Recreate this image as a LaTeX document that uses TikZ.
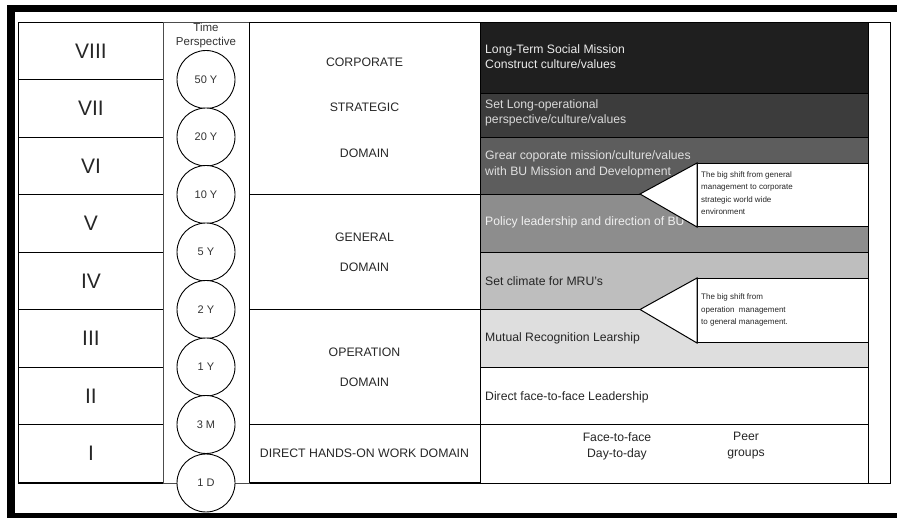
\documentclass[tikz,border=0pt]{standalone}
\usepackage{fontspec}
\setmainfont{Liberation Sans}
\newcommand\setfs[2]{\fontsize{#1}{#2}\selectfont}
\definecolor{bandA}{HTML}{1F1F1F}
\definecolor{bandB}{HTML}{3C3C3C}
\definecolor{bandC}{HTML}{5D5D5D}
\definecolor{bandD}{HTML}{8D8D8D}
\definecolor{bandE}{HTML}{BEBEBE}
\definecolor{bandF}{HTML}{DEDEDE}
\begin{document}
\begin{tikzpicture}[x=1pt,y=-1pt,
  cell/.style={draw=black, line width=0.9pt, inner sep=0pt, anchor=north west},
  numeral/.style={font=\setfs{21}{24}, text=black!85},
  domlabel/.style={font=\setfs{12.3}{14}, inner sep=0pt, text=black!85},
  tcircle/.style={circle, draw=black, line width=0.9pt, fill=white, minimum size=58pt, inner sep=0pt, font=\setfs{11}{13}, text=black!80},
  band/.style={draw=black, line width=1pt, inner sep=0pt, anchor=north west, minimum width=388pt},
  bandtext/.style={anchor=west, align=left, inner sep=0pt, font=\setfs{12.2}{15.5}},
  callbox/.style={draw=black, line width=1pt, fill=white, inner sep=0pt, anchor=north west, minimum width=171pt},
  calltext/.style={anchor=base west, align=left, inner sep=0pt, font=\setfs{8}{12.5}, text=black!85},
  pageframe/.style={fill=black, draw=none}]

\useasboundingbox (0,0) rectangle (897,518);

% outer table frame
\node[cell, minimum width=872pt, minimum height=461pt] (outer) at (18,22) {};

% level column
\node[cell, numeral, minimum width=145pt, minimum height=57.5pt] (r8) at (18,22) {VIII};
\node[cell, numeral, minimum width=145pt, minimum height=57.5pt] (r7) at (18,79.5) {VII};
\node[cell, numeral, minimum width=145pt, minimum height=57.5pt] (r6) at (18,137) {VI};
\node[cell, numeral, minimum width=145pt, minimum height=57.5pt] (r5) at (18,194.5) {V};
\node[cell, numeral, minimum width=145pt, minimum height=57.5pt] (r4) at (18,252) {IV};
\node[cell, numeral, minimum width=145pt, minimum height=57.5pt] (r3) at (18,309.5) {III};
\node[cell, numeral, minimum width=145pt, minimum height=57.5pt] (r2) at (18,367) {II};
\node[cell, numeral, minimum width=145pt, minimum height=57.5pt] (r1) at (18,424.5) {I};

% time perspective column
\node[cell, draw=black!70, minimum width=86pt, minimum height=461pt] (tcol) at (163,22) {};
\node[align=center, inner sep=0pt, font=\setfs{11.5}{14}, text=black!80] (tp) at (206,36) {Time\\Perspective};

% domain column
\node[cell, minimum width=231pt, minimum height=172.5pt] (dstrat) at (249,22) {};
\node[cell, minimum width=231pt, minimum height=115pt] (dgen) at (249,194.5) {};
\node[cell, minimum width=231pt, minimum height=115pt] (dop) at (249,309.5) {};
\node[cell, minimum width=231pt, minimum height=57.5pt] (ddir) at (249,424.5) {};
\node[domlabel] (ds1) at (364.5,62) {CORPORATE};
\node[domlabel] (ds2) at (364.5,107) {STRATEGIC};
\node[domlabel] (ds3) at (364.5,153) {DOMAIN};
\node[domlabel] (dg1) at (364.5,237) {GENERAL};
\node[domlabel] (dg2) at (364.5,267) {DOMAIN};
\node[domlabel] (do1) at (364.5,352) {OPERATION};
\node[domlabel] (do2) at (364.5,382) {DOMAIN};
\node[domlabel] (dd1) at (364.5,453) {DIRECT HANDS-ON WORK DOMAIN};

% leadership bands
\node[band, fill=bandA, minimum height=71pt] (b8) at (480,22) {};
\node[band, fill=bandB, minimum height=44pt] (b7) at (480,93) {};
\node[band, fill=bandC, minimum height=57.5pt] (b6) at (480,137) {};
\node[band, fill=bandD, minimum height=57.5pt] (b5) at (480,194.5) {};
\node[band, fill=bandE, minimum height=57.5pt] (b4) at (480,252) {};
\node[band, fill=bandF, minimum height=57.5pt] (b3) at (480,309.5) {};
\node[band, fill=white, minimum height=57.5pt] (b2) at (480,367) {};
\node[band, fill=white, minimum height=58.5pt] (b1) at (480,424.5) {};

\node[bandtext, text=white!92!black] (t8) at (485,56.5) {Long-Term Social Mission\\Construct culture/values};
\node[bandtext, text=white!85!black] (t7) at (485,113) {Set Long-operational\\perspective/culture/values};
\node[bandtext, text=white!88!black] (t6) at (485,164.5) {Grear coporate mission/culture/values\\with BU Mission and Development};
\node[bandtext, text=white!94!black] (t5) at (485,222) {Policy leadership and direction of BU};
\node[bandtext, text=black!85] (t4) at (485,281) {Set climate for MRU's};
\node[bandtext, text=black!85] (t3) at (485,338) {Mutual Recognition Learship};
\node[bandtext, text=black!85] (t2) at (485,397) {Direct face-to-face Leadership};
\node[align=center, inner sep=0pt, font=\setfs{12.2}{16}, text=black!85] (t1a) at (617,446) {Face-to-face\\Day-to-day};
\node[align=center, inner sep=0pt, font=\setfs{12.2}{16}, text=black!85] (t1b) at (746,446) {Peer\\groups};

% callouts (text anchored on the baseline of its last line)
\node[callbox, minimum height=63pt] (cb1) at (697,163) {};
\coordinate (tip1) at (640,194);
\draw[line width=1pt, fill=white] (cb1.north west) -- (tip1) -- (cb1.south west) -- cycle;
\node[calltext] (ct1) at (701,215) {The big shift from general\\management to corporate\\strategic world wide\\environment};

\node[callbox, minimum height=64pt] (cb2) at (697,278) {};
\coordinate (tip2) at (640,309.5);
\draw[line width=1pt, fill=white] (cb2.north west) -- (tip2) -- (cb2.south west) -- cycle;
\node[calltext] (ct2) at (701,325) {The big shift from\\operation\ \ management\\to general management.};

% time circles on the row boundaries
\node[tcircle] (c8) at (206,79.5) {50 Y};
\node[tcircle] (c7) at (206,137) {20 Y};
\node[tcircle] (c6) at (206,194.5) {10 Y};
\node[tcircle] (c5) at (206,252) {5 Y};
\node[tcircle] (c4) at (206,309.5) {2 Y};
\node[tcircle] (c3) at (206,367) {1 Y};
\node[tcircle] (c2) at (206,424.5) {3 M};
\node[tcircle] (c1) at (206,483) {1 D};

% heavy page border
\fill[pageframe] (7,5) rectangle (897,12);
\fill[pageframe] (7,5) rectangle (15,518);
\fill[pageframe] (7,513) rectangle (897,518);
\end{tikzpicture}
\end{document}
